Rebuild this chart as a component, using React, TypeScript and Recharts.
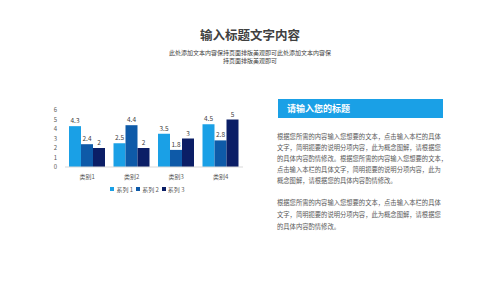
import React from "react";
import { BarChart, Bar, XAxis, YAxis, Legend, LabelList } from "recharts";

const categories = ["类别1", "类别2", "类别3", "类别4"];
const series1 = [4.3, 2.5, 3.5, 4.5];
const series2 = [2.4, 4.4, 1.8, 2.8];
const series3 = [2, 2, 3, 5];
const seriesNames = ["系列 1", "系列 2", "系列 3"];
const yTicks = [0, 1, 2, 3, 4, 5, 6];

const title = "输入标题文字内容";
const subtitleLines = ["此处添加文本内容保持页面排版美观即可此处添加文本内容保", "持页面排版美观即可"];
const boxTitle = "请输入您的标题";
const para1 = [
  "根据您所需的内容输入您想要的文本，点击输入本栏的具体",
  "文字，简明扼要的说明分项内容，此为概念图解，请根据您",
  "的具体内容酌情修改。根据您所需的内容输入您想要的文本，",
  "点击输入本栏的具体文字，简明扼要的说明分项内容，此为",
  "概念图解，请根据您的具体内容酌情修改。",
];
const para2 = [
  "根据您所需的内容输入您想要的文本，点击输入本栏的具体",
  "文字，简明扼要的说明分项内容，此为概念图解，请根据您",
  "的具体内容酌情修改。",
];

const colors = ["#1AA0E6", "#0E5AA8", "#0B1E66"];
const FONT = '"Noto Sans CJK SC", "Noto Sans", sans-serif';

const data = categories.map((c, i) => ({
  name: c,
  s1: series1[i],
  s2: series2[i],
  s3: series3[i],
}));

const LegendContent = () => (
  <div style={{ display: "flex", justifyContent: "center", alignItems: "center", height: 12, fontFamily: FONT, fontSize: 6, color: "#595959" }}>
    {seriesNames.map((n, i) => (
      <span key={n} style={{ display: "inline-flex", alignItems: "center", marginRight: 3 }}>
        <span style={{ width: 4, height: 4, background: colors[i], display: "inline-block", marginRight: 2 }} />
        {n}
      </span>
    ))}
  </div>
);

export default function App() {
  return (
    <div style={{ position: "fixed", left: 0, top: 0, width: 500, height: 281, background: "#fff", fontFamily: FONT, overflow: "hidden" }}>
      <div style={{ position: "absolute", left: 0, width: 500, top: 27, textAlign: "center", fontSize: 12.5, fontWeight: 700, color: "#404040", lineHeight: "16px" }}>
        {title}
      </div>
      {subtitleLines.map((l, i) => (
        <div key={i} style={{ position: "absolute", left: 0, width: 500, top: 48.5 + i * 8, textAlign: "center", fontSize: 6, color: "#404040", lineHeight: "8px", whiteSpace: "nowrap" }}>
          {l}
        </div>
      ))}
      <div style={{ position: "absolute", left: 0, top: 0 }}>
        <BarChart width={260} height={200} data={data} margin={{ top: 110, right: 17, left: 55, bottom: 5 }} barCategoryGap={4} barGap={0}>
          <XAxis dataKey="name" height={16} axisLine={{ stroke: "#D9D9D9" }} tickLine={false} tick={{ fontSize: 6, fill: "#595959", fontFamily: FONT }} />
          <YAxis width={10} domain={[0, 6]} ticks={yTicks} axisLine={false} tickLine={false} tick={{ fontSize: 6, fill: "#595959", fontFamily: FONT }} interval={0} />
          <Legend verticalAlign="bottom" content={<LegendContent />} />
          {(["s1", "s2", "s3"] as const).map((k, i) => (
            <Bar key={k} dataKey={k} name={seriesNames[i]} fill={colors[i]} isAnimationActive={false}>
              <LabelList dataKey={k} position="top" offset={3} style={{ fontSize: 6.5, fill: "#404040", fontFamily: FONT }} />
            </Bar>
          ))}
        </BarChart>
      </div>
      <div style={{ position: "absolute", left: 278, top: 99, width: 165, height: 19, background: "#1AA0E6" }} />
      <div style={{ position: "absolute", left: 287, top: 99, height: 19, lineHeight: "19px", fontSize: 9, fontWeight: 700, color: "#fff", whiteSpace: "nowrap" }}>
        {boxTitle}
      </div>
      {para1.map((l, i) => (
        <div key={"a" + i} style={{ position: "absolute", left: 277, top: 132 + i * 11.1, fontSize: 6.3, lineHeight: "10px", color: "#595959", whiteSpace: "nowrap" }}>
          {l}
        </div>
      ))}
      {para2.map((l, i) => (
        <div key={"b" + i} style={{ position: "absolute", left: 277, top: 198 + i * 11.8, fontSize: 6.3, lineHeight: "10px", color: "#595959", whiteSpace: "nowrap" }}>
          {l}
        </div>
      ))}
    </div>
  );
}
